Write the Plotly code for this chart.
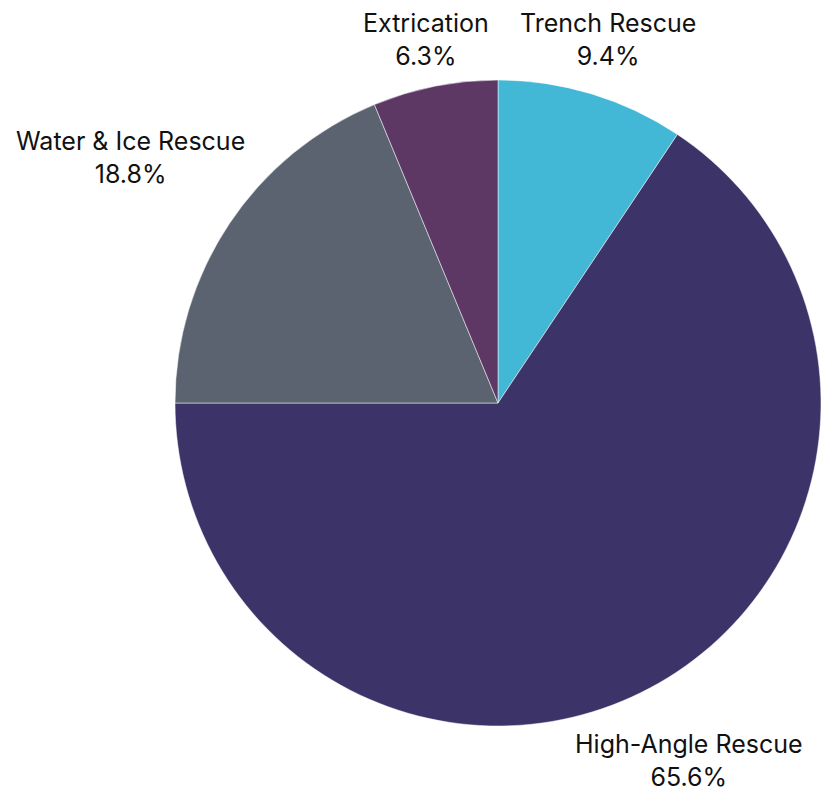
import math
import plotly.graph_objects as go

labels = ["Trench Rescue", "High-Angle Rescue", "Water & Ice Rescue", "Extrication"]
values = [3, 21, 6, 2]
colors = ["#42B7D6", "#3C3468", "#5B6270", "#5E3865"]

W, H = 830, 794
L, T, R, B = 167, 72, 17, 76
plot_w = W - L - R
plot_h = H - T - B
radius = min(plot_w, plot_h) / 2
cx, cy = L + plot_w / 2, T + plot_h / 2
font_size = 25
char_w = 13.0
box_h = 58
gap = 5

fig = go.Figure(go.Pie(
    labels=labels,
    values=values,
    sort=False,
    direction="clockwise",
    rotation=0,
    marker=dict(colors=colors, line=dict(color="#FFFFFF", width=0.5)),
    textinfo="none",
    showlegend=False,
    hoverinfo="label+percent",
    automargin=False,
))

total = sum(values)
cum = 0
annotations = []
for lab, v in zip(labels, values):
    mid = (cum + v / 2) / total * 2 * math.pi
    cum += v
    ux, uy = math.sin(mid), -math.cos(mid)
    bw = len(lab) * char_w
    ext = abs(ux) * bw / 2 + abs(uy) * box_h / 2
    d = radius + gap + ext
    px, py = cx + d * ux, cy + d * uy
    pct = math.floor(v / total * 1000 + 0.5) / 10
    annotations.append(dict(
        x=(px - L) / plot_w, y=1 - (py - T) / plot_h,
        xref="paper", yref="paper",
        text=f"{lab}<br>{pct:.1f}%",
        showarrow=False, xanchor="center", yanchor="middle",
        align="center",
        font=dict(family="Inter", size=font_size, color="#111111"),
    ))

fig.update_layout(
    width=W,
    height=H,
    margin=dict(l=L, r=R, t=T, b=B, autoexpand=False),
    paper_bgcolor="white",
    plot_bgcolor="white",
    font=dict(family="Inter"),
    annotations=annotations,
)

fig.write_html("out.html")
